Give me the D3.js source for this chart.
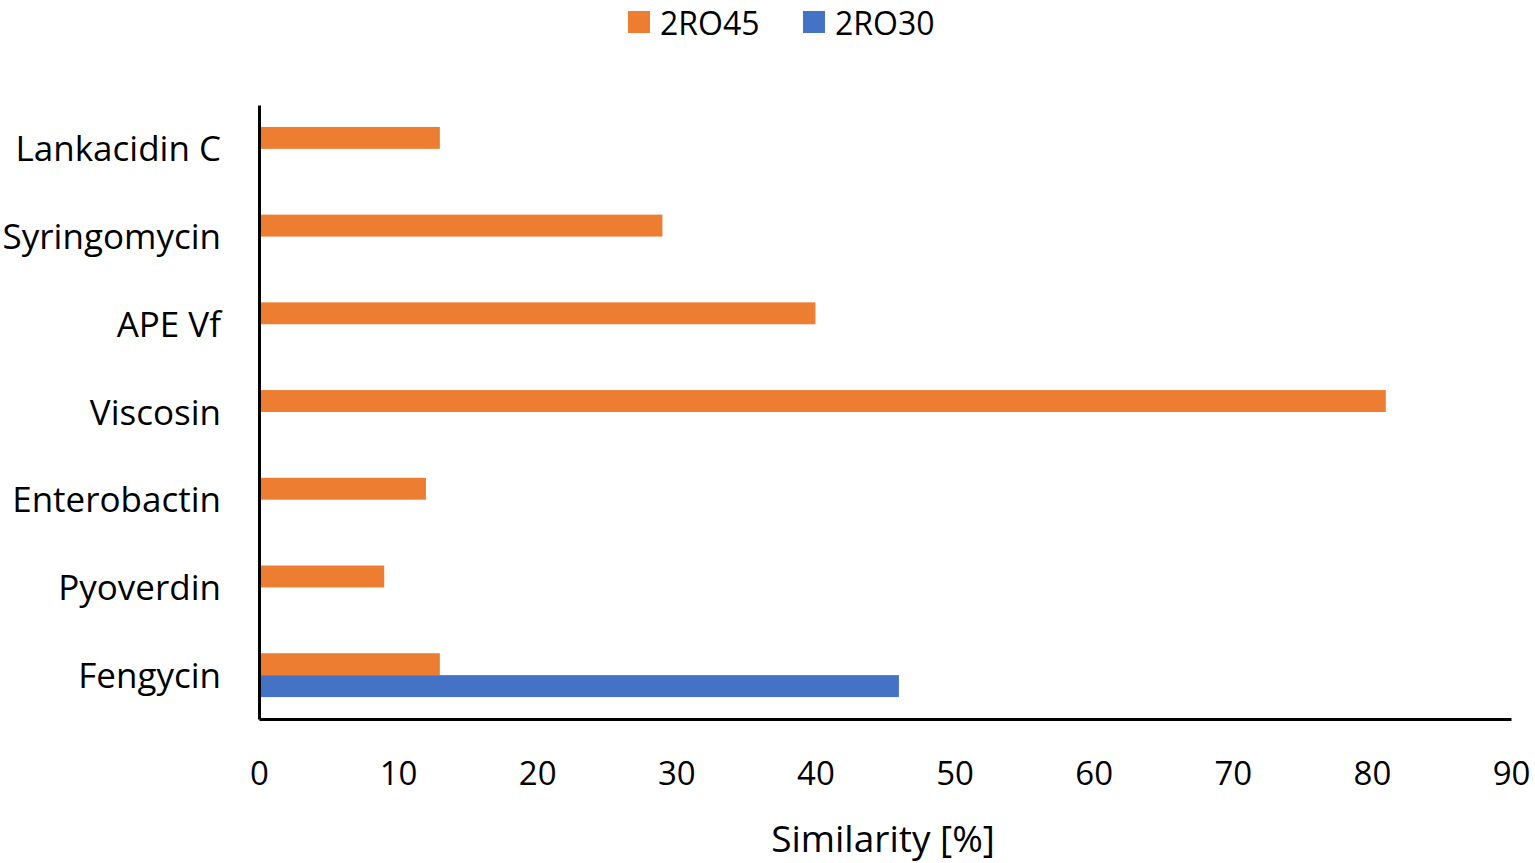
<!DOCTYPE html>
<html><head><meta charset="utf-8">
<script src="https://cdn.jsdelivr.net/npm/d3@7"></script>
<style>body{margin:0;background:#fff;} svg{display:block;font-family:"Open Sans", Lato, sans-serif;}</style>
</head><body>
<svg id="c" width="1535" height="863"></svg>
<script>
const categories = ["Lankacidin C","Syringomycin","APE Vf","Viscosin","Enterobactin","Pyoverdin","Fengycin"];
const series = ["2RO45","2RO30"];
const values2RO45 = [13,29,40,81,12,9,13];
const values2RO30 = [null,null,null,null,null,null,46];
const xTicks = [0,10,20,30,40,50,60,70,80,90];
const colors = ["#ED7D31","#4472C4"];

const FONT = '"Open Sans", Lato, sans-serif';
const svg = d3.select("#c");
const L = 259, R = 1511, T = 105, B = 719;
const x = d3.scaleLinear().domain([0,90]).range([L,R]);
const y = d3.scaleBand().domain(categories).range([T,B]).paddingInner(0.5).paddingOuter(0.25);
const sub = d3.scaleBand().domain(series).range([0,y.bandwidth()]);

const data = [values2RO45, values2RO30];
series.forEach((s,i)=>{
  svg.append("g").selectAll("rect").data(categories.map((c,j)=>({c,v:data[i][j]})).filter(d=>d.v!=null))
    .join("rect")
    .attr("x", x(0)).attr("y", d=>y(d.c)+sub(s))
    .attr("width", d=>x(d.v)-x(0)).attr("height", sub.bandwidth())
    .attr("fill", colors[i]);
});

// axes
const xa = svg.append("g").attr("transform",`translate(0,${B})`).call(d3.axisBottom(x).tickValues(xTicks).tickSize(0));
xa.select(".domain").attr("stroke","#000").attr("stroke-width",3);
xa.selectAll("text").attr("font-size",33).attr("fill","#000").attr("font-family",FONT)
  .attr("y",66).attr("dy",0);

const ya = svg.append("g").attr("transform",`translate(${L},0)`).call(d3.axisLeft(y).tickSize(0).tickPadding(38));
ya.select(".domain").attr("stroke","#000").attr("stroke-width",3);
ya.selectAll("text").attr("font-size",35).attr("fill","#000").attr("font-family",FONT)
  .attr("dy","0.36em");

svg.append("text").attr("x",883).attr("y",852).attr("text-anchor","middle")
  .attr("font-size",37).attr("fill","#000").text("Similarity [%]");

// legend
const leg = svg.append("g");
const legX = [628, 803];
series.forEach((s,i)=>{
  leg.append("rect").attr("x",legX[i]).attr("y",11).attr("width",22).attr("height",22).attr("fill",colors[i]);
  leg.append("text").attr("x",legX[i]+32).attr("y",35).attr("font-size",32).attr("fill","#000").text(s);
});
</script>
</body></html>
